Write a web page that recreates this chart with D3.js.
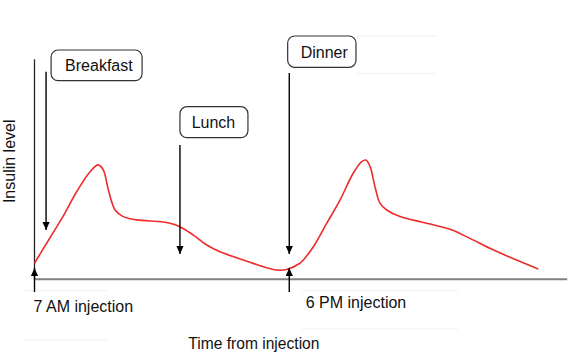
<!DOCTYPE html>
<html><head><meta charset="utf-8">
<script src="https://cdn.jsdelivr.net/npm/d3@7"></script>
<style>
html,body{margin:0;padding:0;background:#fff;}
svg{display:block;font-family:"Liberation Sans",Arial,sans-serif;}
</style></head>
<body><svg id="c" width="570" height="356"></svg>
<script>
// Data: hours after the 7 AM injection vs relative insulin level
const hours  = [0,0.67,1.24,1.82,2.40,2.75,2.97,3.19,3.48,3.83,4.41,5.42,5.85,6.28,6.86,7.44,8.01,9.02,9.88,10.46,10.89,11.46,11.61,12.04,12.62,13.19,13.76,14.13,14.31,14.49,14.70,14.92,15.21,15.78,16.65,17.08,17.94,18.80,19.66,20.53,21.75];
const levels = [7.3,18.9,28.7,39.8,48.9,52.0,49.7,40.6,31.5,28.5,27.0,26.2,25.5,23.9,20.1,15.6,12.5,8.8,5.7,4.2,4.5,7.3,8.8,14.8,25.5,36.0,48.2,53.5,54.2,51.2,42.1,34.5,31.5,28.5,26.2,25.1,22.7,18.6,14.1,10.0,4.7];
const meals      = ["Breakfast","Lunch","Dinner"];
const mealHours  = [0.5, 6.28, 11];
const injections = ["7 AM injection","6 PM injection"];
const injHours   = [0, 11];
const xTitle = "Time from injection";
const yTitle = "Insulin level";

const svg = d3.select("#c");
const x = d3.scaleLinear().domain([0,23]).range([34.5,567.2]);
const y = d3.scaleLinear().domain([0,100]).range([279.3,59.3]);

// arrow marker
svg.append("defs").append("marker").attr("id","ah")
  .attr("viewBox","0 0 10 10").attr("refX",10).attr("refY",5)
  .attr("markerWidth",8).attr("markerHeight",8).attr("markerUnits","userSpaceOnUse")
  .attr("orient","auto")
  .append("path").attr("d","M0,0.5 L10,5 L0,9.5 Z").attr("fill","#000");

// faint artefact lines
const faint = [[356,436,36],[356,436,73.3],[302,458,290.7],[302,458,329],[23,107,290.7],[23,107,340]];
svg.selectAll("line.faint").data(faint).join("line").attr("class","faint")
  .attr("x1",d=>d[0]).attr("x2",d=>d[1]).attr("y1",d=>d[2]).attr("y2",d=>d[2])
  .attr("stroke","#f0f0f0").attr("stroke-width",1);

// axes
svg.append("line").attr("x1",x(0)).attr("x2",x(0)).attr("y1",y(100)).attr("y2",y(0))
  .attr("stroke","#222").attr("stroke-width",1.3);
svg.append("line").attr("x1",x(0)).attr("x2",x(23)).attr("y1",y(0)).attr("y2",y(0))
  .attr("stroke","#808080").attr("stroke-width",2);

// curve
const line = d3.line().x((d,i)=>x(hours[i])).y((d,i)=>y(levels[i])).curve(d3.curveCatmullRom.alpha(0.5));
svg.append("path").attr("d",line(levels)).attr("fill","none")
  .attr("stroke","#ee2b2b").attr("stroke-width",1.6);

// meal annotations (layout)
const boxes = [
  {top:50,  h:30.7, w:91,  dx:5,   tx:14, tipY:230, startY:71.7},
  {top:106.7,h:31,  w:68,  dx:0,   tx:11.7, tipY:254, startY:145},
  {top:36,  h:31.3, w:68.3,dx:-1.6,tx:13, tipY:254, startY:73}
];
meals.forEach((m,i)=>{
  const b = boxes[i], ax = x(mealHours[i]);
  svg.append("line").attr("x1",ax).attr("x2",ax).attr("y1",b.startY).attr("y2",b.tipY)
    .attr("stroke","#000").attr("stroke-width",1.4).attr("marker-end","url(#ah)");
  const bx = ax + b.dx;
  svg.append("rect").attr("x",bx).attr("y",b.top).attr("width",b.w).attr("height",b.h)
    .attr("rx",7).attr("fill","#fff").attr("stroke","#333").attr("stroke-width",1.2);
  svg.append("text").attr("x",bx+b.tx).attr("y",b.top+b.h*0.69).attr("font-size",16)
    .attr("fill","#111").text(m);
});

// injection arrows + labels
const injLabel = [{dx:-1, y:311.5},{dx:16.5, y:308.3}];
injections.forEach((t,i)=>{
  const ax = x(injHours[i]);
  svg.append("line").attr("x1",ax).attr("x2",ax).attr("y1",292).attr("y2",268)
    .attr("stroke","#000").attr("stroke-width",1.4).attr("marker-end","url(#ah)");
  svg.append("text").attr("x",ax+injLabel[i].dx).attr("y",injLabel[i].y).attr("font-size",16)
    .attr("fill","#111").text(t);
});

// titles
svg.append("text").attr("x",188.3).attr("y",349.3).attr("font-size",15.6).attr("fill","#111").text(xTitle);
svg.append("text").attr("transform","translate(15,161.3) rotate(-90)").attr("text-anchor","middle")
  .attr("font-size",16).attr("fill","#111").text(yTitle);
</script></body></html>
